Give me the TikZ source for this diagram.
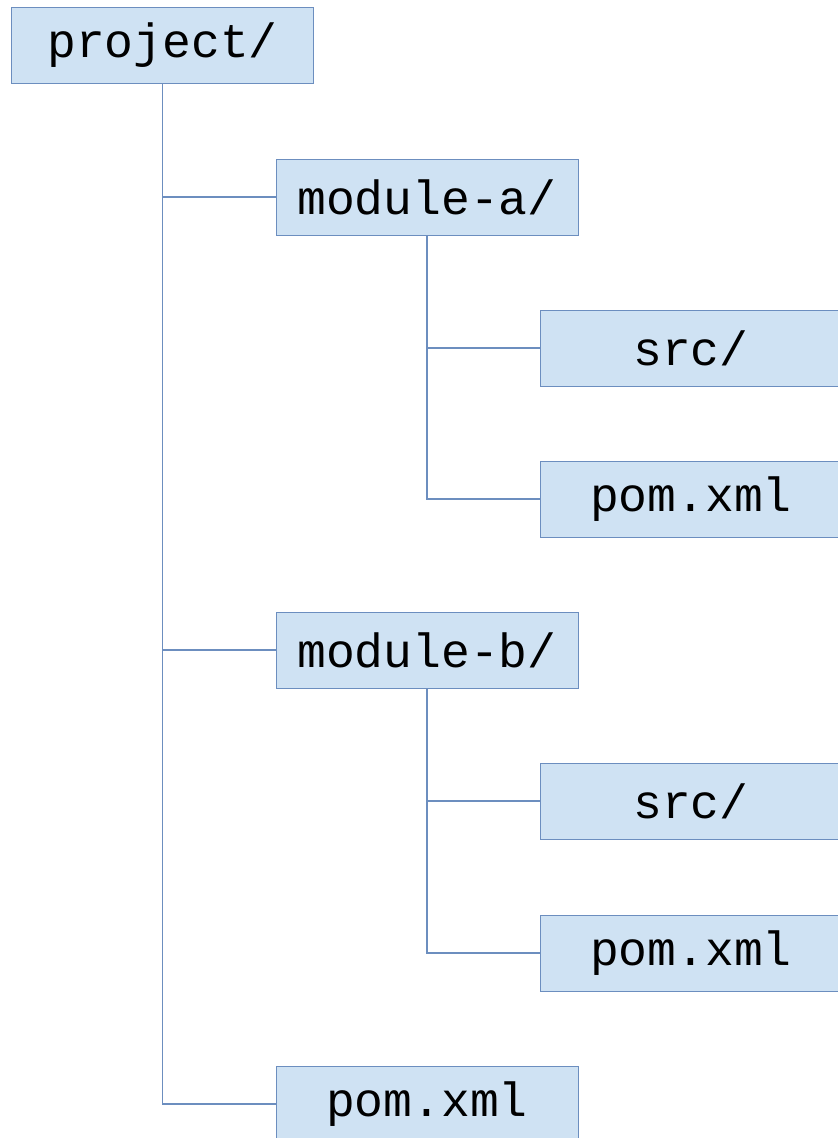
\documentclass[tikz,border=0pt]{standalone}
\usepackage{fontspec}
\setmonofont{Liberation Mono}
\definecolor{boxfill}{RGB}{207,226,243}
\definecolor{boxline}{RGB}{108,142,191}
\tikzset{
  dirbox/.style={draw=boxline, fill=boxfill, line width=1pt,
    minimum width=302pt, minimum height=76pt, inner sep=0pt,
    font=\ttfamily\fontsize{48}{48}\selectfont},
  branch/.style={draw=boxline, line width=1.1pt}
}
\begin{document}
\begin{tikzpicture}[x=1pt,y=-1pt]
  \useasboundingbox (0,0) rectangle (838,1138);

  % root
  \node[dirbox] (project) at (162.5,45.5) {project/};

  % first module
  \node[dirbox] (moda) at (427,197) {module-a/};
  \node[dirbox] (srca) at (691,348) {src/};
  \node[dirbox] (poma) at (691,499) {pom.xml};

  % second module
  \node[dirbox] (modb) at (427,650) {module-b/};
  \node[dirbox] (srcb) at (691,801) {src/};
  \node[dirbox] (pomb) at (691,953) {pom.xml};

  % root pom
  \node[dirbox] (pomroot) at (427,1104) {pom.xml};

  \draw[branch] (project.south) |- (moda.west);
  \draw[branch] (project.south) |- (modb.west);
  \draw[branch] (project.south) |- (pomroot.west);

  \draw[branch] (moda.south) |- (srca.west);
  \draw[branch] (moda.south) |- (poma.west);
  \draw[branch] (modb.south) |- (srcb.west);
  \draw[branch] (modb.south) |- (pomb.west);
\end{tikzpicture}
\end{document}
